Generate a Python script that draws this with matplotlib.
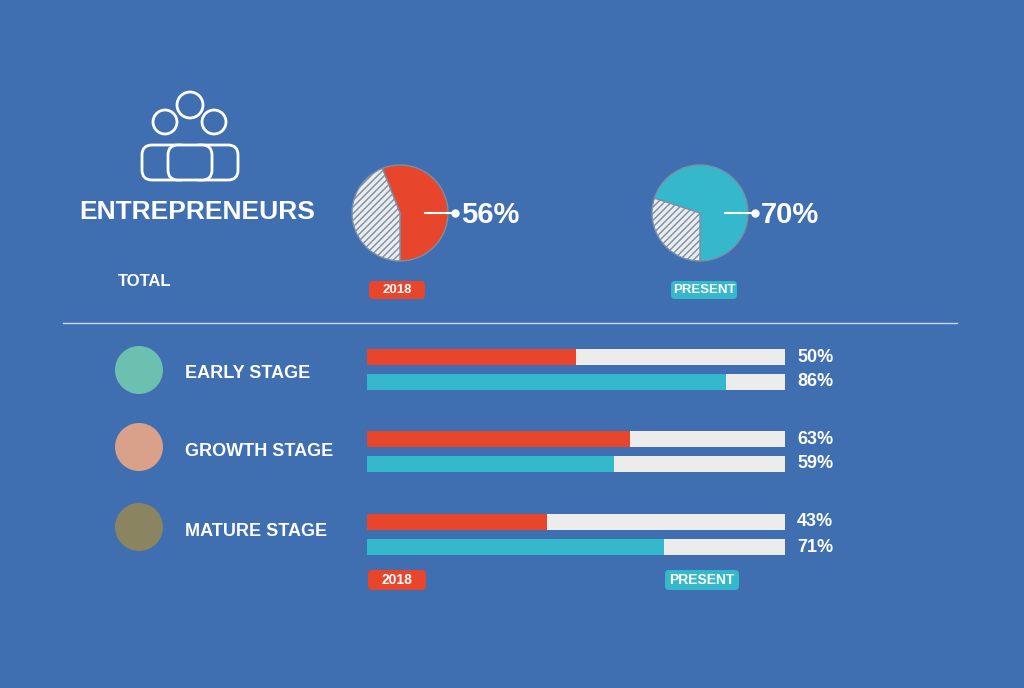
import matplotlib
matplotlib.use("Agg")
import matplotlib.pyplot as plt
from matplotlib.patches import FancyBboxPatch, Circle, Rectangle, Arc

pie_labels = ["2018", "PRESENT"]
pie_values = [56, 70]
stages = ["EARLY STAGE", "GROWTH STAGE", "MATURE STAGE"]
v2018 = [50, 63, 43]
vpresent = [86, 59, 71]

BG = "#3f6fb0"; RED = "#e8462c"; CYAN = "#35b8cc"; GREY = "#ececec"; W = "white"
plt.rcParams['font.family'] = ['Liberation Sans', 'DejaVu Sans']
plt.rcParams['hatch.color'] = '#c8c8c8'

fig = plt.figure(figsize=(10.24, 6.88), dpi=100, facecolor=BG)
ax = fig.add_axes([0, 0, 1, 1])
ax.set_xlim(0, 1024); ax.set_ylim(688, 0); ax.axis("off"); ax.set_facecolor(BG)

# people icon
for cx, cy, r in [(190, 105, 13), (165, 122, 12), (214, 122, 12)]:
    ax.add_patch(Circle((cx, cy), r, fill=False, ec=W, lw=2, zorder=3))
for x0, x1 in [(142, 190), (190, 238), (168, 212)]:
    ax.add_patch(FancyBboxPatch((x0, 145), x1 - x0, 35, boxstyle="round,pad=0,rounding_size=10",
                                fc=BG, ec=W, lw=2, zorder=2))
ax.text(197, 212, "ENTREPRENEURS", color=W, fontsize=19, fontweight="bold", ha="center", va="center")
ax.text(145, 281, "TOTAL", color=W, fontsize=12, fontweight="bold", ha="center", va="center")

# pies
for (cx, col, lab, v, bx) in [(400, RED, pie_labels[0], pie_values[0], 397),
                               (700, CYAN, pie_labels[1], pie_values[1], 704)]:
    w, _ = ax.pie([v, 100 - v], colors=[col, GREY], startangle=90, counterclock=False,
                  center=(cx, 213), radius=48, frame=True,
                  wedgeprops=dict(ec="#7a8fa8", lw=1))
    w[1].set_hatch("/////")
    ax.plot([cx + 25, cx + 55], [213, 213], color=W, lw=1.5)
    ax.plot(cx + 55, 213, "o", color=W, ms=5)
    ax.text(cx + 61, 215, f"{v}%", color=W, fontsize=21, fontweight="bold", va="center")
    wl = 56 if lab == "2018" else 66
    ax.add_patch(FancyBboxPatch((bx - wl / 2, 281), wl, 18, boxstyle="round,pad=0,rounding_size=4", fc=col, ec="none"))
    ax.text(bx, 290, lab, color=W, fontsize=9.5, fontweight="bold", ha="center", va="center")
ax.set_xlim(0, 1024); ax.set_ylim(688, 0); ax.set_aspect("equal"); ax.axis("off")

ax.plot([63, 957], [323, 323], color="#c9d6ea", lw=1)

icon_cols = ["#6cc0b0", "#d9a08a", "#8a8560"]
icon_y = [370, 447, 527]
bar_y = [(357, 382), (439, 464), (522, 547)]
X0, X1 = 367, 785
for i, s in enumerate(stages):
    ax.add_patch(Circle((139, icon_y[i]), 24, fc=icon_cols[i], ec="none"))
    ax.text(185, icon_y[i] + 4, s, color=W, fontsize=13, fontweight="bold", va="center")
    for yv, val, col in [(bar_y[i][0], v2018[i], RED), (bar_y[i][1], vpresent[i], CYAN)]:
        ax.add_patch(Rectangle((X0, yv - 8), X1 - X0, 16, fc=GREY, ec="none", hatch="//////"))
        ax.add_patch(Rectangle((X0, yv - 8), (X1 - X0) * val / 100, 16, fc=col, ec="none"))
        ax.text(797, yv, f"{val}%", color=W, fontsize=13, fontweight="bold", va="center")

for bx, lab, col, wl in [(397, "2018", RED, 58), (702, "PRESENT", CYAN, 74)]:
    ax.add_patch(FancyBboxPatch((bx - wl / 2, 570), wl, 20, boxstyle="round,pad=0,rounding_size=4", fc=col, ec="none"))
    ax.text(bx, 580, lab, color=W, fontsize=10, fontweight="bold", ha="center", va="center")

fig.savefig("out.png", dpi=100, facecolor=BG)
